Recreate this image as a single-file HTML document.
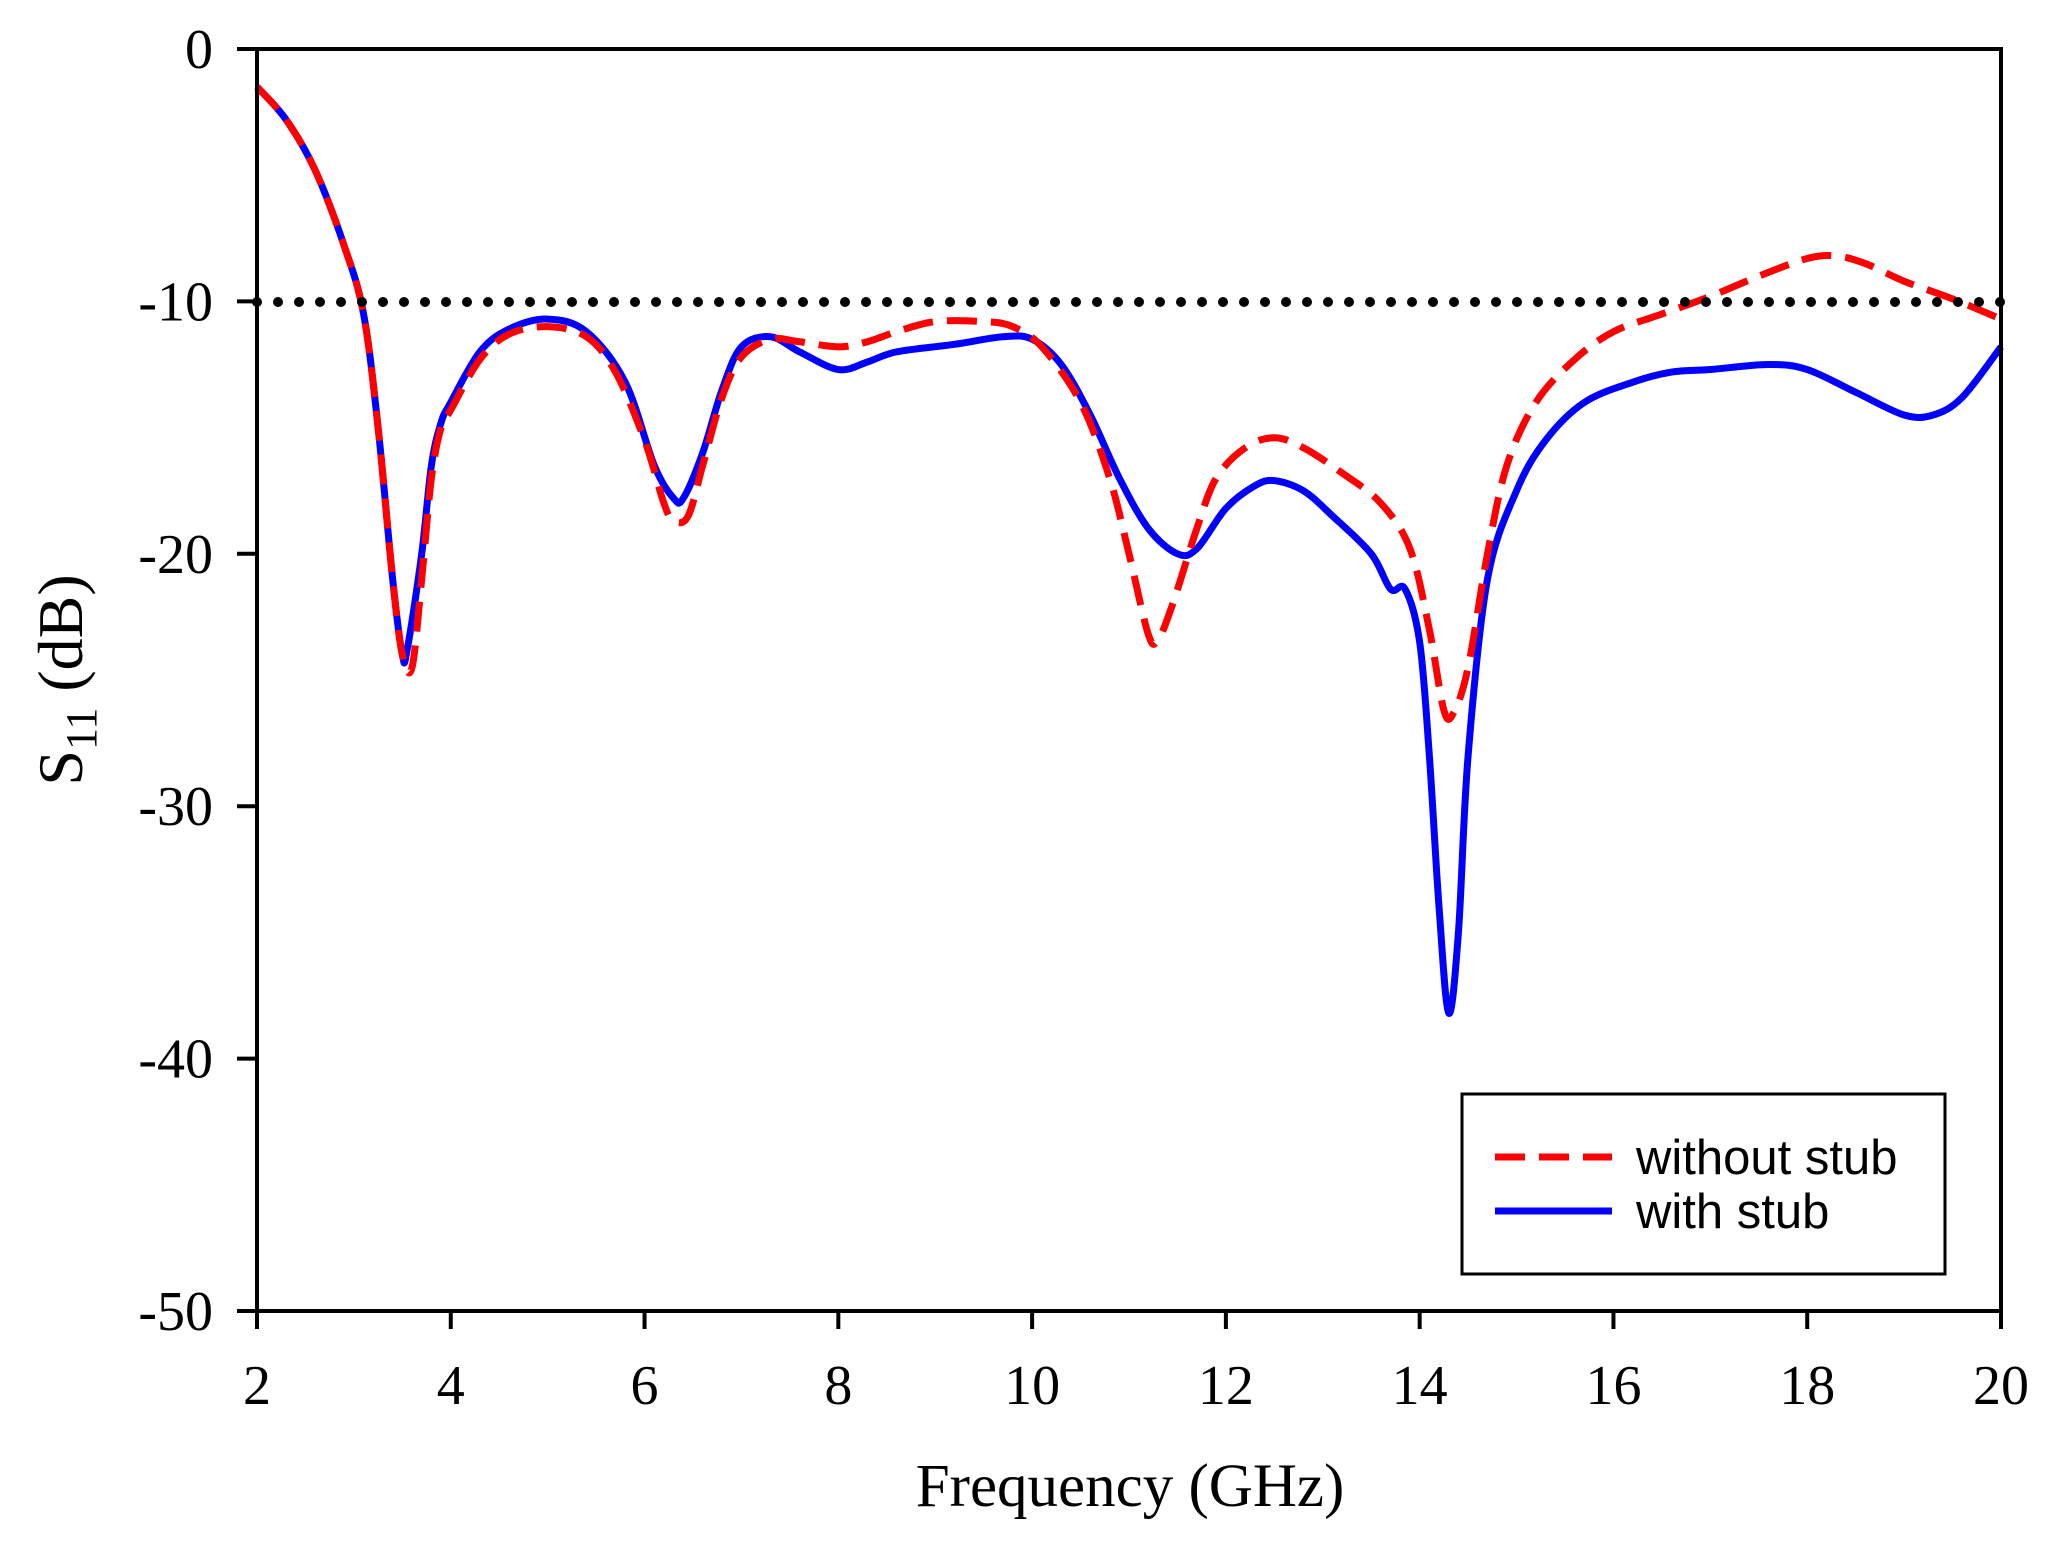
<!DOCTYPE html>
<html><head><meta charset="utf-8"><style>
html,body{margin:0;padding:0;background:#fff;}
svg{display:block;}
</style></head><body>
<svg id="s" width="2060" height="1544" xmlns="http://www.w3.org/2000/svg">
<rect width="2060" height="1544" fill="#fff"/>
<g id="curves"></g>
<line x1="257" y1="302" x2="2001" y2="302" stroke="#000" stroke-width="10" stroke-linecap="round" stroke-dasharray="0 21"/>
<rect x="257" y="49" width="1744" height="1262" fill="none" stroke="#000" stroke-width="4"/>
<g id="ticks" stroke="#000" stroke-width="4"></g>
<g id="labels" font-family="Liberation Serif, serif" font-size="56" fill="#000"></g>
<text x="1130" y="1506" font-family="Liberation Serif, serif" font-size="61" text-anchor="middle">Frequency (GHz)</text>
<text transform="translate(82,680) rotate(-90)" font-family="Liberation Serif, serif" font-size="64" text-anchor="middle">S<tspan font-size="44" dy="14">11</tspan><tspan dy="-14"> (dB)</tspan></text>
<rect x="1462" y="1094" width="483" height="180" fill="#fff" stroke="#000" stroke-width="3"/>
<line x1="1495" y1="1157" x2="1612" y2="1157" stroke="#f00" stroke-width="7" stroke-dasharray="30 14"/>
<line x1="1495" y1="1211" x2="1612" y2="1211" stroke="#00f" stroke-width="7"/>
<text x="1636" y="1174" font-family="Liberation Sans, sans-serif" font-size="49">without stub</text>
<text x="1636" y="1228" font-family="Liberation Sans, sans-serif" font-size="49">with stub</text>
</svg>
<script>
const X=f=>257+(f-2)*(1744/18), Y=d=>49-d*(1262/50);
const red=[[2,-1.5],[2.3,-2.8],[2.6,-4.8],[2.9,-7.8],[3.1,-10.5],[3.25,-15],[3.4,-21],[3.5,-24],[3.6,-24.5],[3.7,-21],[3.8,-17],[3.9,-15],[4.0,-14.3],[4.3,-12.3],[4.6,-11.3],[5.0,-11],[5.4,-11.4],[5.7,-12.8],[6.0,-15.5],[6.2,-18],[6.3,-18.7],[6.45,-18.5],[6.6,-16.5],[6.8,-13.8],[7.0,-12.2],[7.3,-11.5],[7.6,-11.6],[8.0,-11.8],[8.3,-11.6],[8.6,-11.2],[9,-10.8],[9.5,-10.8],[9.8,-11],[10.1,-11.8],[10.5,-14],[10.8,-17],[11.0,-20],[11.2,-23.2],[11.3,-23.4],[11.45,-22],[11.7,-19],[11.9,-17],[12.2,-15.8],[12.5,-15.4],[12.8,-15.8],[13.2,-16.8],[13.6,-18],[13.9,-19.8],[14.1,-23],[14.25,-26.2],[14.35,-26.3],[14.5,-24.5],[14.7,-20],[14.9,-16.5],[15.2,-14],[15.6,-12.3],[16,-11.2],[16.5,-10.5],[17,-9.8],[17.5,-9],[18,-8.3],[18.3,-8.2],[18.6,-8.5],[19,-9.2],[19.5,-9.9],[20,-10.7]];
const blue=[[2,-1.5],[2.3,-2.8],[2.6,-4.8],[2.9,-7.8],[3.1,-10.5],[3.25,-15],[3.4,-21],[3.5,-24],[3.55,-23.8],[3.7,-20],[3.8,-16.5],[3.9,-14.8],[4.0,-14],[4.3,-12],[4.6,-11.1],[5.0,-10.7],[5.4,-11.2],[5.8,-13.2],[6.1,-16.5],[6.3,-17.8],[6.4,-17.8],[6.6,-16],[6.8,-13.5],[7.0,-11.8],[7.3,-11.4],[7.6,-12],[8.0,-12.7],[8.3,-12.4],[8.6,-12],[9.2,-11.7],[9.7,-11.4],[10.0,-11.5],[10.3,-12.5],[10.6,-14.5],[10.9,-17],[11.2,-19],[11.5,-20],[11.7,-19.8],[12.0,-18.2],[12.3,-17.3],[12.5,-17.1],[12.8,-17.5],[13.1,-18.5],[13.5,-20],[13.7,-21.4],[13.85,-21.4],[14.0,-23.5],[14.1,-28],[14.2,-34],[14.3,-38.2],[14.4,-35],[14.5,-28],[14.7,-21],[15.0,-17.5],[15.3,-15.5],[15.7,-14],[16.2,-13.2],[16.6,-12.8],[17.0,-12.7],[17.6,-12.5],[18.0,-12.7],[18.5,-13.6],[19.0,-14.5],[19.3,-14.5],[19.6,-13.8],[20,-11.8]];
function path(pts){const p=pts.map(a=>[X(a[0]),Y(a[1])]);let d='M'+p[0][0]+','+p[0][1];
for(let i=0;i<p.length-1;i++){const p0=p[i-1]||p[i],p1=p[i],p2=p[i+1],p3=p[i+2]||p2;
d+=' C'+(p1[0]+(p2[0]-p0[0])/6)+','+(p1[1]+(p2[1]-p0[1])/6)+' '+(p2[0]-(p3[0]-p1[0])/6)+','+(p2[1]-(p3[1]-p1[1])/6)+' '+p2[0]+','+p2[1];}return d;}
const NS='http://www.w3.org/2000/svg',g=document.getElementById('curves');
function add(pts,c,da){const e=document.createElementNS(NS,'path');e.setAttribute('d',path(pts));e.setAttribute('fill','none');e.setAttribute('stroke',c);e.setAttribute('stroke-width','7');if(da)e.setAttribute('stroke-dasharray',da);g.appendChild(e);}
add(blue,'#00f');add(red,'#f00','30 14');
const t=document.getElementById('ticks'),l=document.getElementById('labels');
for(let v=0;v>=-50;v-=10){const y=Y(v);t.innerHTML+=`<line x1="237" y1="${y}" x2="257" y2="${y}"/>`;l.innerHTML+=`<text x="213" y="${y+19}" text-anchor="end">${v}</text>`;}
for(let f=2;f<=20;f+=2){const x=X(f);t.innerHTML+=`<line x1="${x}" y1="1311" x2="${x}" y2="1329"/>`;l.innerHTML+=`<text x="${x}" y="1404" text-anchor="middle">${f}</text>`;}
</script>
</body></html>
